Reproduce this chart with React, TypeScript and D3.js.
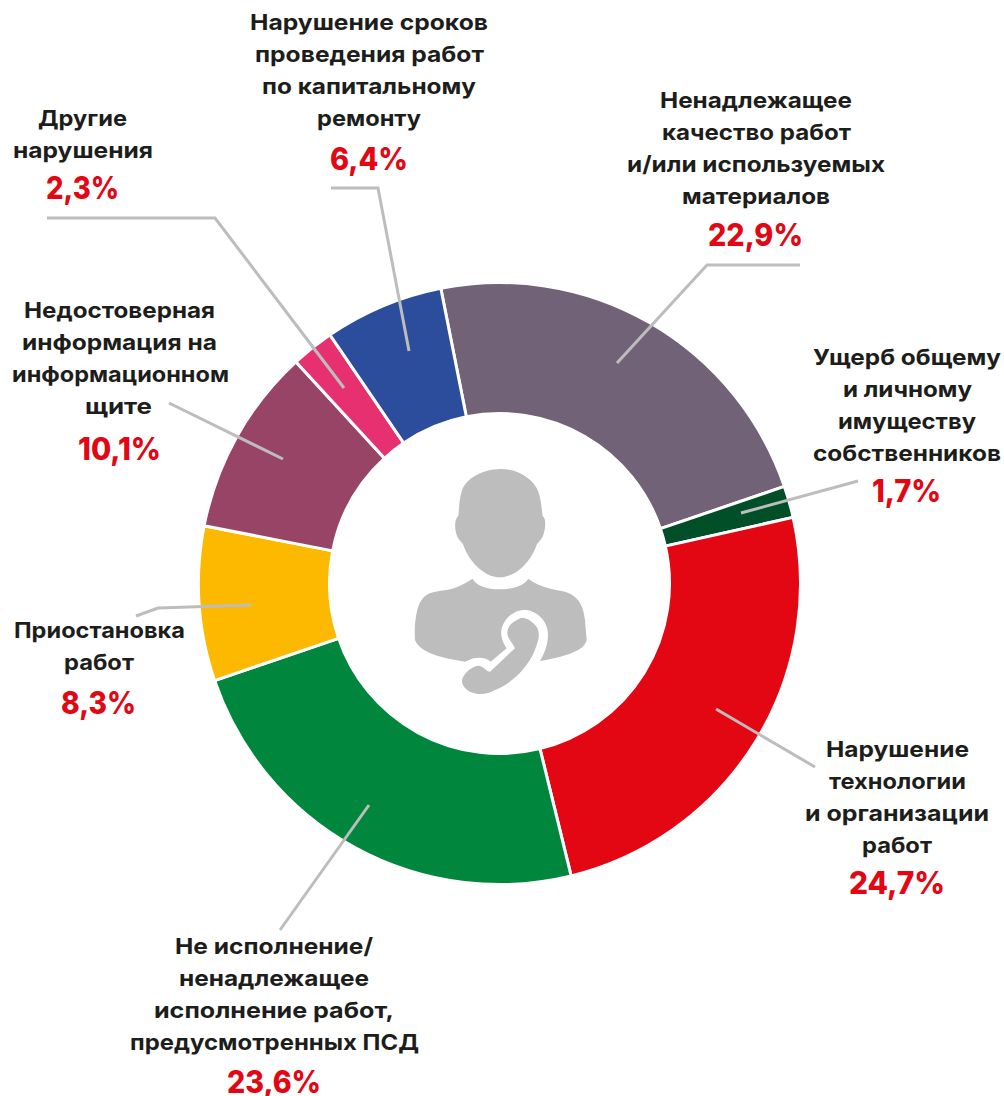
import React from "react";
import * as d3 from "d3";

// ---------- data ----------
const categories = [
  "Ненадлежащее качество работ и/или используемых материалов",
  "Ущерб общему и личному имуществу собственников",
  "Нарушение технологии и организации работ",
  "Не исполнение/ненадлежащее исполнение работ, предусмотренных ПСД",
  "Приостановка работ",
  "Недостоверная информация на информационном щите",
  "Другие нарушения",
  "Нарушение сроков проведения работ по капитальному ремонту",
];
const values = [22.9, 1.7, 24.7, 23.6, 8.3, 10.1, 2.3, 6.4];
const valueLabels = ["22,9%", "1,7%", "24,7%", "23,6%", "8,3%", "10,1%", "2,3%", "6,4%"];
const labelLines = [
  ["Ненадлежащее", "качество работ", "и/или используемых", "материалов"],
  ["Ущерб общему", "и личному", "имуществу", "собственников"],
  ["Нарушение", "технологии", "и организации", "работ"],
  ["Не исполнение/", "ненадлежащее", "исполнение работ,", "предусмотренных ПСД"],
  ["Приостановка", "работ"],
  ["Недостоверная", "информация на", "информационном", "щите"],
  ["Другие", "нарушения"],
  ["Нарушение сроков", "проведения работ", "по капитальному", "ремонту"],
];

// ---------- styling and layout ----------
const colors = ["#716278", "#004f29", "#e30613", "#00873d", "#fdb900", "#984467", "#e6306f", "#2b4d9c"];
const labelSpans = [
  [[660, 852], [662, 851], [627, 885], [682, 830]],
  [[813, 1001], [843, 972], [838, 976], [813, 1001]],
  [[826, 969], [829, 966], [805, 989], [862, 932]],
  [[175, 373], [179, 369], [154, 394], [130, 419]],
  [[14, 185], [64, 134]],
  [[24, 215], [22, 217], [12, 229], [85, 152]],
  [[38, 127], [13, 153]],
  [[250, 488], [255, 484], [262, 476], [317, 421]],
];
const firstBaselines = [108, 365, 757, 954, 638, 318, 126, 30];
const valueSpans = [[708, 803], [872, 941], [849, 945], [227, 321], [61, 136], [78, 161], [46, 119], [330, 408]];
const valueBaselines = [246, 502, 894, 1093, 714, 460, 199, 170];
const leaders = [
  [[800, 265], [707, 265], [617, 363]],
  [[858, 481], [741, 513]],
  [[716, 709], [815, 767]],
  [[369, 805], [280, 930]],
  [[136, 616], [158, 608], [251, 605]],
  [[169, 403], [283, 459]],
  [[47, 218], [215, 218], [344, 388]],
  [[331, 188], [378, 188], [409, 351]],
];
const CX = 499.5, CY = 583.5, R_OUT = 301, R_IN = 170;
const START = (-11.25 * Math.PI) / 180;
const FONT = "Inter, 'Noto Sans', sans-serif";
const INK = "#1d1d1b", RED = "#e30613", GRAY = "#bdbdbd";

const HEAD = "M300 27C350 25 400 55 415 95C425 125 425 150 428 168C438 175 438 200 430 225C425 240 415 245 410 255C395 300 350 352 300 352C250 352 205 300 190 255C185 245 175 240 170 225C162 200 165 175 175 168C178 140 178 115 185 95C195 55 250 28 300 27Z";
const BODY = "M218 356C225 375 260 388 300 388C340 388 375 375 385 356C410 375 440 385 480 392C530 400 550 430 555 480L560 540C555 570 500 590 420 603C440 570 450 530 440 500C430 470 400 450 375 450C345 450 315 470 305 505C300 530 310 550 320 565L272 605C262 595 240 590 220 595L195 605C130 595 60 580 45 540C42 500 48 440 65 420C80 395 110 395 140 390C170 385 195 370 218 356Z";
const PHONE = "M355 478C365 470 385 475 400 490C420 505 420 530 410 555C395 610 340 670 285 690C260 705 235 705 210 695C190 685 180 665 190 650C200 632 225 615 240 618C250 620 260 635 270 635L345 565C340 550 320 535 322 515C325 495 340 485 355 478Z";

export default function App() {
  const arcs = d3
    .pie<number>()
    .sort(null)
    .startAngle(START)
    .endAngle(START + 2 * Math.PI)(values);
  const arc = d3.arc<d3.PieArcDatum<number>>().innerRadius(R_IN).outerRadius(R_OUT);
  const line = d3.line();

  return (
    <svg
      width={1004}
      height={1096}
      viewBox="0 0 1004 1096"
      style={{ position: "absolute", left: 0, top: 0, display: "block", background: "#fff" }}
    >
      <g transform={`translate(${CX},${CY})`}>
        {arcs.map((a, i) => (
          <path key={i} d={arc(a) ?? ""} fill={colors[i]} stroke="#fff" strokeWidth={3}>
            <title>{categories[i]}</title>
          </path>
        ))}
      </g>

      <g transform="translate(400,460) scale(0.3333)" fill={GRAY}>
        <path d={HEAD} />
        <path d={BODY} />
        <path d={PHONE} />
      </g>

      {leaders.map((pts, i) => (
        <path
          key={i}
          d={line(pts as [number, number][]) ?? ""}
          fill="none"
          stroke={GRAY}
          strokeWidth={3}
        />
      ))}

      <g fontFamily={FONT} textAnchor="middle">
        {labelLines.map((lines, i) =>
          lines.map((t, j) => {
            const [x0, x1] = labelSpans[i][j];
            return (
              <text
                key={`${i}-${j}`}
                x={(x0 + x1) / 2}
                y={firstBaselines[i] + j * 32}
                fontSize={22}
                fontWeight={700}
                fill={INK}
                textLength={x1 - x0}
                lengthAdjust="spacingAndGlyphs"
              >
                {t}
              </text>
            );
          })
        )}
        {valueLabels.map((t, i) => {
          const [x0, x1] = valueSpans[i];
          return (
            <text
              key={t}
              x={(x0 + x1) / 2}
              y={valueBaselines[i]}
              fontSize={31}
              fontWeight={800}
              fill={RED}
              textLength={x1 - x0}
              lengthAdjust="spacingAndGlyphs"
            >
              {t}
            </text>
          );
        })}
      </g>
    </svg>
  );
}
